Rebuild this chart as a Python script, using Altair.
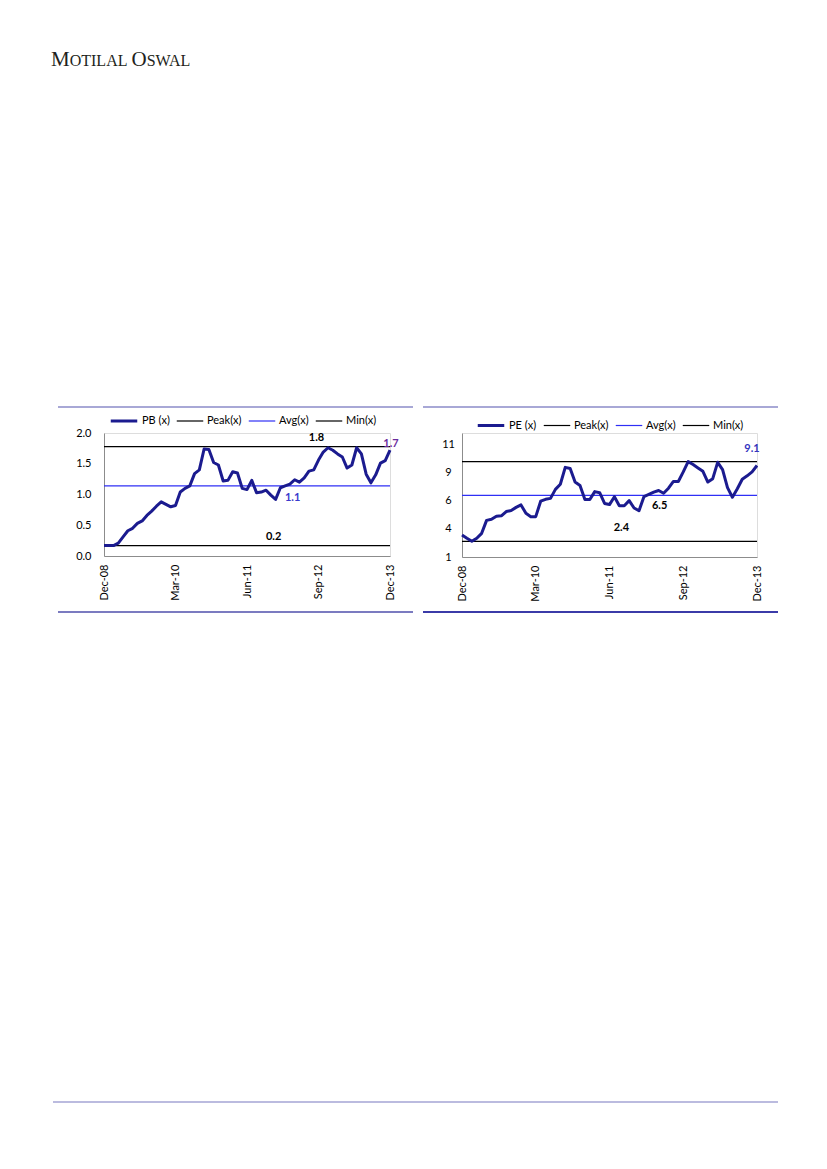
import altair as alt
import pandas as pd

# ---------------- data ----------------
MONTHS = [d.strftime("%b-%y") for d in pd.date_range("2008-12-01", "2013-12-01", freq="MS")]
X_TICKS = ["Dec-08", "Mar-10", "Jun-11", "Sep-12", "Dec-13"]

PB_NAMES = ["PB (x)", "Peak(x)", "Avg(x)", "Min(x)"]
PB_VALUES = [0.17, 0.17, 0.17, 0.21, 0.31, 0.41, 0.45, 0.53, 0.57, 0.66,
             0.73, 0.81, 0.88, 0.84, 0.80, 0.82, 1.04, 1.10, 1.14, 1.34,
             1.40, 1.74, 1.73, 1.52, 1.48, 1.22, 1.23, 1.37, 1.35, 1.10,
             1.08, 1.23, 1.03, 1.04, 1.07, 0.99, 0.92, 1.11, 1.14, 1.17,
             1.24, 1.20, 1.27, 1.38, 1.40, 1.56, 1.69, 1.76, 1.72, 1.66,
             1.61, 1.43, 1.48, 1.76, 1.66, 1.33, 1.19, 1.32, 1.51, 1.55, 1.72]
PB_PEAK, PB_AVG, PB_MIN = 1.78, 1.14, 0.17
PB_Y_TICKS = [0.0, 0.5, 1.0, 1.5, 2.0]

PE_NAMES = ["PE (x)", "Peak(x)", "Avg(x)", "Min(x)"]
PE_VALUES = [2.95, 2.66, 2.39, 2.66, 3.10, 4.25, 4.35, 4.62, 4.65, 5.03,
             5.13, 5.40, 5.62, 4.88, 4.58, 4.58, 5.95, 6.12, 6.20, 7.00,
             7.45, 8.95, 8.85, 7.65, 7.35, 6.10, 6.10, 6.80, 6.70, 5.75,
             5.65, 6.35, 5.55, 5.55, 6.00, 5.35, 5.10, 6.35, 6.55, 6.75,
             6.90, 6.65, 7.10, 7.70, 7.70, 8.55, 9.46, 9.20, 8.90, 8.60,
             7.65, 7.95, 9.40, 8.75, 7.15, 6.30, 7.05, 7.90, 8.20, 8.55, 9.12]
PE_PEAK, PE_AVG, PE_MIN = 9.46, 6.47, 2.39
PE_Y_TICKS = [1, 3.5, 6, 8.5, 11]

# ---------------- style ----------------
NAVY = "#1b1b8f"
BLUE = "#2f2ff5"
GRAY = "#8c8c8c"
FONT = "Lato"
ONE = pd.DataFrame({"k": [0]})


def hrule(x1, x2, y, color, width):
    return alt.Chart(ONE).mark_rule(color=color, strokeWidth=width).encode(
        x=alt.value(x1), x2=alt.value(x2), y=alt.value(y))


def deco_text(s, x, y, size, font="Liberation Serif", color="#231f20"):
    return alt.Chart(ONE).mark_text(text=s, align="left", baseline="alphabetic",
                                    font=font, fontSize=size, color=color).encode(
        x=alt.value(x), y=alt.value(y))


def panel(names, values, peak, avg, mn, ydomain, yaxis, width, height,
          legend_xy, labels, decorations):
    x_enc = alt.X("month:O", sort=MONTHS,
                  scale=alt.Scale(type="point", padding=0),
                  axis=alt.Axis(values=X_TICKS, labelAngle=270, title=None,
                                ticks=False, tickSize=0, labelPadding=8,
                                domainColor=GRAY, labelFont=FONT, labelFontSize=11,
                                labelColor="black", grid=False, labelOverlap=False))
    y_enc = alt.Y("value:Q", scale=alt.Scale(domain=ydomain, nice=False, zero=False),
                  axis=yaxis)
    legend = alt.Legend(orient="none", legendX=legend_xy[0], legendY=legend_xy[1],
                        direction="horizontal", title=None, symbolType="stroke",
                        symbolSize=702, labelFont=FONT, labelFontSize=11,
                        labelColor="black", labelOffset=3, columnPadding=4,
                        padding=0)
    color_enc = alt.Color("series:N", scale=alt.Scale(domain=names,
                          range=[NAVY, "black", BLUE, "black"]), legend=legend)
    sw_enc = alt.StrokeWidth("series:N", scale=alt.Scale(type="ordinal", domain=names,
                             range=[3, 1.2, 1.2, 1.2]), legend=legend)

    line_df = pd.DataFrame({"month": MONTHS, "value": values, "series": names[0]})
    rule_df = pd.DataFrame({"series": names[1:], "value": [peak, avg, mn]})

    line = alt.Chart(line_df).mark_line(strokeJoin="round").encode(
        x=x_enc, y=y_enc, color=color_enc, strokeWidth=sw_enc)
    rules = alt.Chart(rule_df).mark_rule().encode(
        y=y_enc, color=color_enc, strokeWidth=sw_enc)

    layers = [rules, line]
    for idx, val, col, dx, dy in labels:
        df = pd.DataFrame({"month": [MONTHS[idx]], "value": [val],
                           "label": [f"{val:.1f}"]})
        layers.append(alt.Chart(df).mark_text(
            font=FONT, fontSize=11, fontWeight="bold", color=col,
            dx=dx, dy=dy, align="center", baseline="middle").encode(
            x=x_enc, y=y_enc, text="label:N"))
    layers += decorations
    return alt.layer(*layers).properties(width=width, height=height)


# --- left panel (PB) : page origin of plot area = (103, 432)
pb_deco = [
    # invisible anchor at page (8, 8)
    alt.Chart(ONE).mark_rule(color="white", strokeWidth=1).encode(
        x=alt.value(-95), x2=alt.value(-94), y=alt.value(-424)),
    deco_text("M", -53, -367, 21),
    deco_text("OTILAL", -34.3, -367, 16),
    deco_text("O", 27.5, -367, 21),
    deco_text("SWAL", 42.7, -367, 16),
    hrule(-46, 309, -26, "#a8a8d6", 2),
    hrule(-46, 309, 179, "#7b7bc0", 2),
    hrule(-51, 674, 669, "#a4a4d4", 1.5),
]
pb_axis = alt.Axis(values=PB_Y_TICKS, format=".1f", title=None, ticks=False, tickSize=0,
                   labelPadding=13, domainColor=GRAY, labelFont=FONT, labelFontSize=11,
                   labelColor="black", grid=False)
pb = panel(PB_NAMES, PB_VALUES, PB_PEAK, PB_AVG, PB_MIN, [0, 2], pb_axis, 286, 123,
           (5, -27),
           [(45, PB_PEAK, "black", -2, -8.5),
            (40, PB_AVG, "#3a3acc", -2, 12),
            (36, PB_MIN, "black", -2, -8.5),
            (60, PB_VALUES[-1], "#6a2c9c", 1, -6)],
           pb_deco)

# --- right panel (PE) : page origin of plot area = (461, 432)
pe_deco = [
    hrule(-39, 316, -26, "#a8a8d6", 2),
    hrule(-39, 316, 179, "#3b3ba8", 2),
]
pe_axis = alt.Axis(values=PE_Y_TICKS, format=".0f", title=None, ticks=False, tickSize=0,
                   labelPadding=14, labelAlign="center", domainColor=GRAY,
                   labelFont=FONT, labelFontSize=11, labelColor="black", grid=False)
pe = panel(PE_NAMES, PE_VALUES, PE_PEAK, PE_AVG, PE_MIN, [1, 12], pe_axis, 295, 124,
           (14, -22.5),
           [(60, PE_VALUES[-1], "#3535c0", -5, -16),
            (40, PE_AVG, "black", 1, 11),
            (32, PE_MIN, "black", 2, -13)],
           pe_deco)

chart = alt.hconcat(pb, pe, spacing=72, bounds="flush").resolve_scale(
    color="independent", strokeWidth="independent"
).resolve_legend(color="independent", strokeWidth="independent").properties(
    padding=0
).configure_view(stroke=None).configure(background="white")

chart.save("out.html", embed_options={"renderer": "svg", "actions": False})
